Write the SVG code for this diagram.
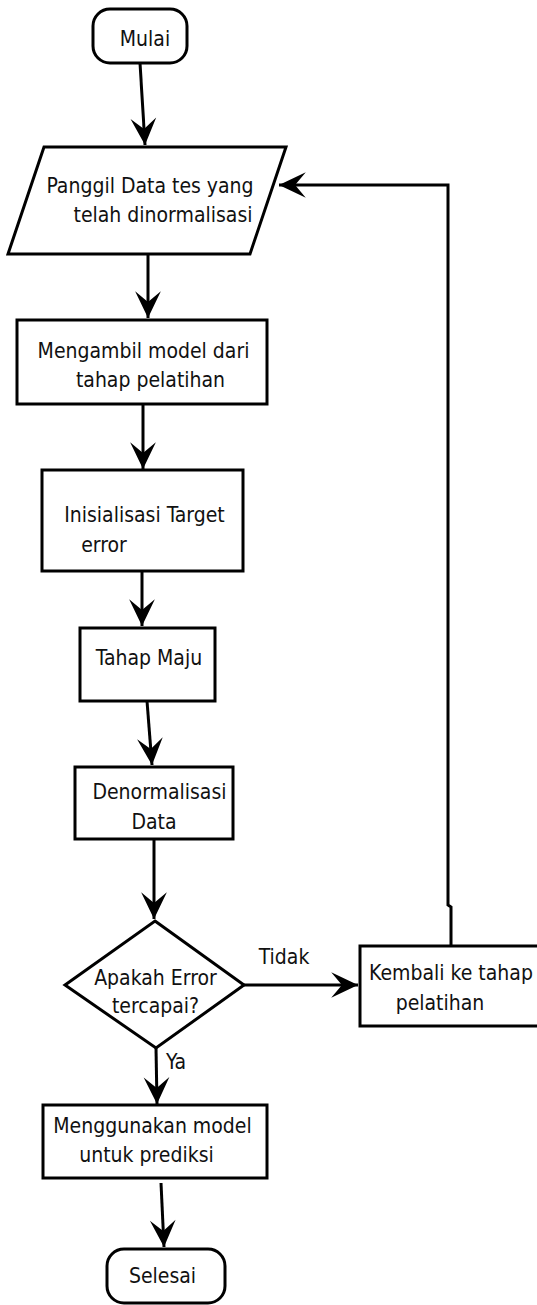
<svg xmlns="http://www.w3.org/2000/svg" width="537" height="1305" viewBox="0 0 537 1305">
  <style>
    .shape { fill: #fff; stroke: #000; stroke-width: 3; }
    .edge { fill: none; stroke: #000; stroke-width: 3; }
    text { font-family: "DejaVu Sans Condensed", "DejaVu Sans", sans-serif; font-stretch: condensed; font-size: 21px; fill: #111; text-anchor: middle; }
  </style>
  <defs>
    <marker id="arrow" markerUnits="userSpaceOnUse" markerWidth="30" markerHeight="30" viewBox="-26 -13 28 26" refX="0" refY="0" orient="auto">
      <path d="M0,0 L-25,-12 L-15,0 L-25,12 Z" fill="#000"/>
    </marker>
  </defs>
  <rect width="537" height="1305" fill="#fff"/>

  <!-- connectors -->
  <g id="connectors">
    <path class="edge" d="M140,63 L145,145" marker-end="url(#arrow)"/>
    <path class="edge" d="M148,254 L148,318" marker-end="url(#arrow)"/>
    <path class="edge" d="M143,404 L143,469" marker-end="url(#arrow)"/>
    <path class="edge" d="M142,571 L142,626" marker-end="url(#arrow)"/>
    <path class="edge" d="M147,701 L152,765" marker-end="url(#arrow)"/>
    <path class="edge" d="M154,839 L154,919" marker-end="url(#arrow)"/>
    <path class="edge" d="M244,985 L358,985" marker-end="url(#arrow)"/>
    <path class="edge" d="M451,946 V907 L448,905 V185 H279" marker-end="url(#arrow)"/>
    <path class="edge" d="M156,1048 L157,1104" marker-end="url(#arrow)"/>
    <path class="edge" d="M161,1183 L164,1247" marker-end="url(#arrow)"/>
    <text x="284" y="964">Tidak</text>
    <text x="176" y="1069">Ya</text>
  </g>

  <g id="start">
    <rect class="shape" x="93" y="9" width="94" height="54" rx="17"/>
    <text x="145" y="46">Mulai</text>
  </g>

  <g id="load-data">
    <polygon class="shape" points="44,147 286,147 250,254 8,254"/>
    <text x="150" y="193">Panggil Data tes yang</text>
    <text x="163" y="222">telah dinormalisasi</text>
  </g>

  <g id="load-model">
    <rect class="shape" x="17" y="320" width="250" height="84"/>
    <text x="143.5" y="358">Mengambil model dari</text>
    <text x="150.5" y="387">tahap pelatihan</text>
  </g>

  <g id="init-target">
    <rect class="shape" x="42" y="470" width="201" height="101"/>
    <text x="144.5" y="522">Inisialisasi Target</text>
    <text x="104" y="552">error</text>
  </g>

  <g id="forward">
    <rect class="shape" x="80" y="628" width="135" height="73"/>
    <text x="149" y="665">Tahap Maju</text>
  </g>

  <g id="denormalize">
    <rect class="shape" x="75" y="767" width="158" height="72"/>
    <text x="159.5" y="799">Denormalisasi</text>
    <text x="154" y="829">Data</text>
  </g>

  <g id="decision">
    <polygon class="shape" points="155,921 244,985 156,1048 65,985"/>
    <text x="155.5" y="985">Apakah Error</text>
    <text x="155.5" y="1013">tercapai?</text>
  </g>

  <g id="back-to-training">
    <rect class="shape" x="360" y="946" width="190" height="80"/>
    <text x="451" y="980">Kembali ke tahap</text>
    <text x="440" y="1010">pelatihan</text>
  </g>

  <g id="predict">
    <rect class="shape" x="43" y="1105" width="224" height="73"/>
    <text x="152.5" y="1133">Menggunakan model</text>
    <text x="146.5" y="1162">untuk prediksi</text>
  </g>

  <g id="end">
    <rect class="shape" x="107" y="1249" width="118" height="54" rx="17"/>
    <text x="162.5" y="1283">Selesai</text>
  </g>
</svg>
